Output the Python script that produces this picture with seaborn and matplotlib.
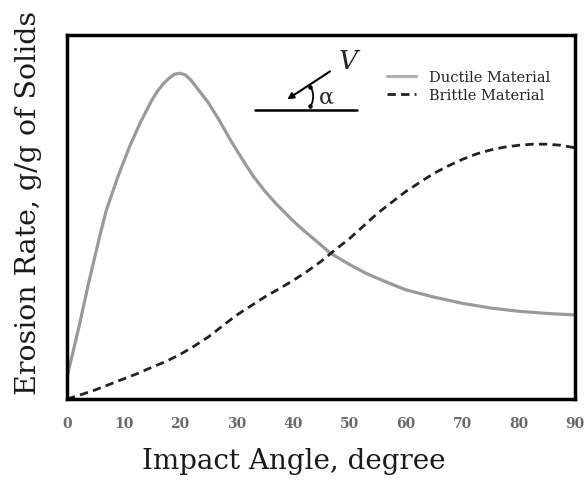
import matplotlib
matplotlib.use("Agg")
import matplotlib.pyplot as plt
import seaborn as sns
import pandas as pd
from matplotlib.patches import Arc

# values (y in relative units, axis has no y ticks)
ductile_angle = [0, 1, 2, 3, 4, 5, 6, 7, 8, 9, 10, 11, 12, 13, 14, 15, 16, 17, 18,
                 19, 20, 21, 22, 23, 24, 25, 27, 29, 31, 33, 35, 37, 40, 42, 44,
                 46.7, 50, 53, 56, 60, 65, 70, 75, 80, 85, 90]
ductile_rate = [0.06, 0.125, 0.19, 0.26, 0.33, 0.395, 0.46, 0.52, 0.565, 0.61,
                0.65, 0.69, 0.725, 0.76, 0.79, 0.82, 0.845, 0.865, 0.88, 0.892,
                0.895, 0.89, 0.875, 0.855, 0.835, 0.815, 0.765, 0.71, 0.66, 0.612,
                0.572, 0.537, 0.49, 0.462, 0.436, 0.40, 0.37, 0.345, 0.325, 0.30,
                0.28, 0.263, 0.25, 0.241, 0.235, 0.231]
brittle_angle = [0, 2.5, 5, 7.5, 10, 12.5, 15, 17.5, 20, 22.5, 25, 27.5, 30, 32.5,
                 35, 37.5, 40, 42.5, 45, 47.5, 50, 52.5, 55, 57.5, 60, 62.5, 65,
                 67.5, 70, 72.5, 75, 77.5, 80, 82.5, 85, 87.5, 90]
brittle_rate = [0.0, 0.012, 0.025, 0.04, 0.055, 0.07, 0.087, 0.103, 0.122, 0.145,
                0.17, 0.2, 0.23, 0.255, 0.28, 0.302, 0.325, 0.35, 0.378, 0.41,
                0.44, 0.475, 0.51, 0.54, 0.57, 0.595, 0.62, 0.64, 0.658, 0.673,
                0.684, 0.692, 0.697, 0.70, 0.70, 0.697, 0.69]
x_ticks = [0, 10, 20, 30, 40, 50, 60, 70, 80, 90]

ductile = pd.DataFrame({"angle": ductile_angle, "rate": ductile_rate})
brittle = pd.DataFrame({"angle": brittle_angle, "rate": brittle_rate})

sns.set_style("white")
plt.rcParams["font.family"] = ["DejaVu Serif", "DejaVu Sans"]

fig = plt.figure(figsize=(5.84, 4.81), dpi=100)
ax = fig.add_axes([0.1147, 0.1684, 0.870, 0.7568])

sns.lineplot(data=ductile, x="angle", y="rate", ax=ax, color="#9a9a9a",
             linewidth=2.3, label="Ductile Material")
sns.lineplot(data=brittle, x="angle", y="rate", ax=ax, color="#222222",
             linewidth=2.0, linestyle=(0, (3.0, 1.9)), label="Brittle Material")

ax.set_xlim(0, 90)
ax.set_ylim(0, 1)
ax.set_xticks(x_ticks)
ax.set_yticks([])
ax.tick_params(axis="x", direction="out", length=6, width=1.6, color="black",
               labelsize=10, labelcolor="#6a6a6a", pad=6)
for lab in ax.get_xticklabels():
    lab.set_fontweight("bold")
for s in ax.spines.values():
    s.set_linewidth(2.5)
    s.set_color("black")

ax.set_xlabel("Impact Angle, degree", fontsize=20, color="#1a1a1a")
ax.xaxis.set_label_coords(0.447, -0.133)
ax.set_ylabel("Erosion Rate, g/g of Solids", fontsize=20.5, color="#1a1a1a")
ax.yaxis.set_label_coords(-0.05, 0.54)

leg = ax.legend(loc="upper left", bbox_to_anchor=(0.604, 0.94), frameon=False,
                fontsize=10.5, handlelength=2.0, handletextpad=0.9,
                labelspacing=0.3)
leg.get_lines()[0].set_color("#b0b0b0")

# impact sketch
ax.plot([33.3, 51.4], [0.794, 0.794], color="black", lw=1.8)
ax.annotate("", xy=(38.6, 0.819), xytext=(47.0, 0.904),
            arrowprops=dict(arrowstyle="-|>", color="black", lw=1.5,
                            mutation_scale=9))
ax.text(49.8, 0.929, "V", fontsize=19, style="italic", ha="center", va="center")
ax.text(45.9, 0.832, "α", fontsize=16, ha="center", va="center")
ax.add_patch(Arc((42.9, 0.831), 1.4, 0.052, theta1=-80, theta2=80, lw=1.3,
                 color="black"))
ax.plot([43.1, 43.1], [0.806, 0.856], "o", color="black", ms=2.2)

fig.savefig("out.png", dpi=100)
